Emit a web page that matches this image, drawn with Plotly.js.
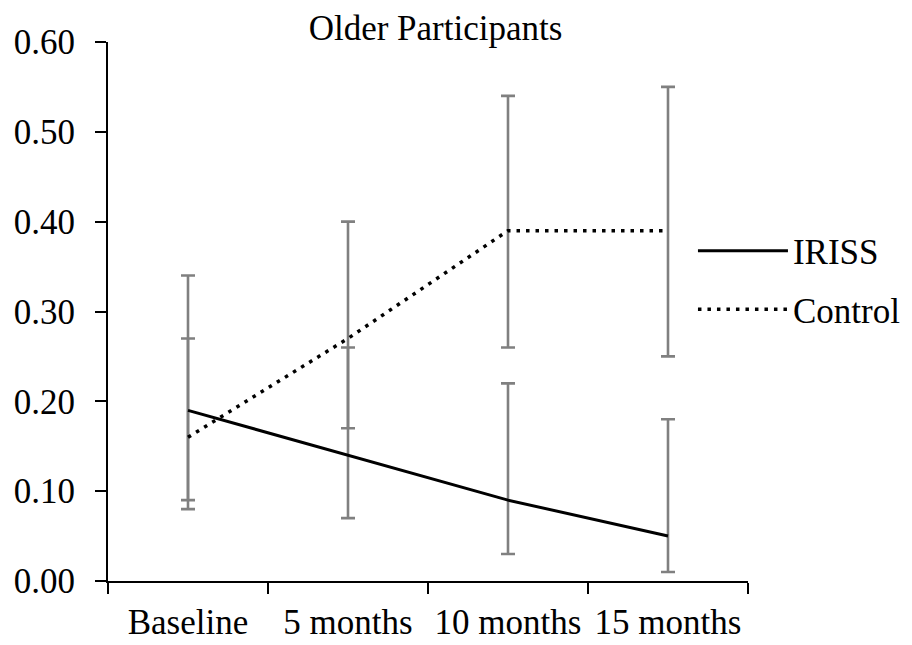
<!DOCTYPE html>
<html>
<head>
<meta charset="utf-8">
<script src="https://cdn.plot.ly/plotly-3.0.1.min.js"></script>
<style>html,body{margin:0;padding:0;background:#fff;}#chart{width:912px;height:645px;}</style>
</head>
<body>
<div id="chart"></div>
<script>
var categories = ["Baseline", "5 months", "10 months", "15 months"];
var irissValues = [0.19, 0.14, 0.09, 0.05];
var irissLower = [0.09, 0.07, 0.03, 0.01];
var irissUpper = [0.27, 0.26, 0.22, 0.18];
var controlValues = [0.16, 0.27, 0.39, 0.39];
var controlLower = [0.08, 0.17, 0.26, 0.25];
var controlUpper = [0.34, 0.40, 0.54, 0.55];
var yTickVals = [0, 0.1, 0.2, 0.3, 0.4, 0.5, 0.6];

function diff(a, b) { return a.map(function (v, i) { return +(v - b[i]).toFixed(4); }); }

var FONT = '"Liberation Serif", "Times New Roman", serif';
var FS = 35;

function errTrace(vals, lo, hi) {
  return {
    x: categories, y: vals, type: 'scatter', mode: 'markers',
    marker: {color: 'rgba(0,0,0,0)', size: 1},
    showlegend: false, hoverinfo: 'skip',
    error_y: {type: 'data', symmetric: false,
      array: diff(hi, vals), arrayminus: diff(vals, lo),
      color: '#808080', thickness: 2.6, width: 7}
  };
}

var data = [
  errTrace(irissValues, irissLower, irissUpper),
  errTrace(controlValues, controlLower, controlUpper),
  {x: categories, y: irissValues, type: 'scatter', mode: 'lines', name: 'IRISS',
   legendgroup: 'a', line: {color: '#000', width: 3}},
  {x: categories, y: controlValues, type: 'scatter', mode: 'lines', name: 'Control',
   legendgroup: 'b', line: {color: '#000', width: 3.5, dash: '3.5px,6px'}}
];

var layout = {
  width: 912, height: 645,
  margin: {l: 108, r: 164, t: 42, b: 64, pad: 0, autoexpand: false},
  paper_bgcolor: '#fff', plot_bgcolor: '#fff',
  font: {family: FONT, size: FS, color: '#000'},
  title: {text: 'Older Participants', font: {family: FONT, size: FS, color: '#000'},
          x: 435.5 / 912, xanchor: 'center', xref: 'container',
          y: 1 - 28 / 645, yanchor: 'middle', yref: 'container', automargin: false},
  xaxis: {type: 'category', range: [-0.5, 3.5], showgrid: false, zeroline: false,
          automargin: false,
          showline: true, linecolor: '#000', linewidth: 2,
          ticks: 'outside', tickson: 'boundaries', ticklen: 11, tickwidth: 2, tickcolor: '#000',
          ticklabelstandoff: 9,
          tickfont: {family: FONT, size: FS, color: '#000'}},
  yaxis: {range: [0, 0.6], tickvals: yTickVals, tickformat: '.2f', showgrid: false, zeroline: false,
          automargin: false,
          showline: true, linecolor: '#000', linewidth: 2,
          ticks: 'outside', ticklen: 11, tickwidth: 2, tickcolor: '#000',
          ticklabelstandoff: 13,
          tickfont: {family: FONT, size: FS, color: '#000'}},
  showlegend: true,
  legend: {x: 0.914, xanchor: 'left', y: 0.667, yanchor: 'top',
           font: {family: FONT, size: FS, color: '#000'},
           bgcolor: 'rgba(0,0,0,0)', borderwidth: 0, itemwidth: 90,
           traceorder: 'grouped', tracegroupgap: 10}
};

Plotly.newPlot('chart', data, layout, {displayModeBar: false, staticPlot: true});
</script>
</body>
</html>
